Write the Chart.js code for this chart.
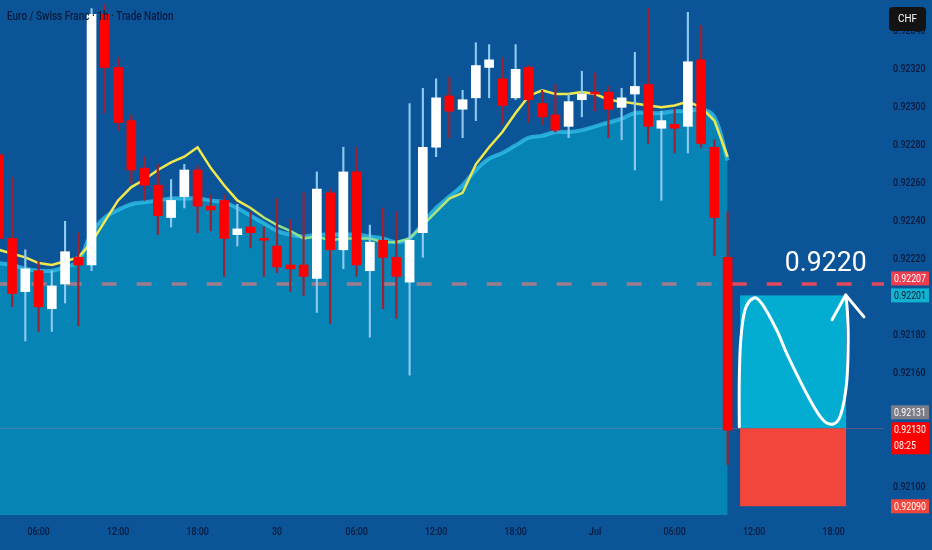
<!DOCTYPE html>
<html>
<head>
<meta charset="utf-8">
<script src="https://cdn.jsdelivr.net/npm/chart.js@4.4.1/dist/chart.umd.min.js"></script>
<style>
  html, body { margin: 0; padding: 0; background: #0a5497; }
  #wrap { width: 932px; height: 550px; position: relative; }
</style>
</head>
<body>
<div id="wrap"><canvas id="myChart"></canvas></div>
<script>
// hourly EUR/CHF candles, index 0 = 29 Jun 03:00
const opens = [0.92275,0.92231,0.92203,0.92214,0.92194,0.92207,0.92221,0.92217,0.92349,0.92321,
  0.92293,0.92268,0.92259,0.92242,0.92253,0.92267,0.92248,0.92251,0.92233,0.92237,
  0.92231,0.92227,0.92217,0.92217,0.92210,0.92255,0.92225,0.92266,0.92214,0.92230,
  0.92221,0.92208,0.92234,0.92279,0.92306,0.92299,0.92305,0.92321,0.92315,0.92305,
  0.92321,0.92302,0.92296,0.92290,0.92304,0.92308,0.92308,0.92300,0.92307,0.92312,
  0.92289,0.92291,0.92290,0.92325,0.92279,0.92221]
const highs = [0.92278,0.92263,0.92225,0.92219,0.92214,0.92240,0.92234,0.92352,0.92354,0.92326,
  0.92296,0.92274,0.92270,0.92262,0.92270,0.92269,0.92254,0.92254,0.92249,0.92245,
  0.92237,0.92252,0.92241,0.92255,0.92266,0.92257,0.92279,0.92279,0.92238,0.92247,
  0.92245,0.92302,0.92310,0.92315,0.92316,0.92309,0.92334,0.92333,0.92326,0.92333,
  0.92322,0.92309,0.92312,0.92307,0.92319,0.92318,0.92311,0.92310,0.92329,0.92352,
  0.92298,0.92299,0.92350,0.92343,0.92283,0.92245]
const lows = [0.92228,0.92195,0.92177,0.92182,0.92182,0.92197,0.92185,0.92214,0.92297,0.92288,
  0.92260,0.92251,0.92233,0.92237,0.92247,0.92234,0.92235,0.92211,0.92227,0.92226,
  0.92211,0.92213,0.92203,0.92201,0.92192,0.92186,0.92215,0.92211,0.92179,0.92194,
  0.92189,0.92159,0.92221,0.92274,0.92284,0.92284,0.92293,0.92305,0.92291,0.92304,
  0.92292,0.92291,0.92287,0.92284,0.92295,0.92298,0.92284,0.92283,0.92267,0.92281,
  0.92251,0.92276,0.92276,0.92279,0.92222,0.92112]
const closes = [0.92231,0.92202,0.92215,0.92195,0.92206,0.92224,0.92217,0.92349,0.92321,0.92292,
  0.92267,0.92259,0.92243,0.92251,0.92267,0.92248,0.92246,0.92231,0.92236,0.92234,
  0.92230,0.92216,0.92215,0.92211,0.92257,0.92225,0.92266,0.92217,0.92229,0.92221,
  0.92211,0.92230,0.92279,0.92305,0.92298,0.92304,0.92322,0.92325,0.92301,0.92320,
  0.92304,0.92295,0.92288,0.92303,0.92307,0.92307,0.92299,0.92305,0.92311,0.92290,
  0.92293,0.92289,0.92324,0.92281,0.92242,0.92130]

// fast moving average (yellow) and slow band (filled area)
const fastMa = [0.92225,0.92223,0.92221,0.92218,0.92217,0.92219,0.92221,0.92229,0.92240,0.92251,
  0.92258,0.92262,0.92267,0.92271,0.92274,0.92279,0.92268,0.92259,0.92251,0.92247,
  0.92242,0.92238,0.92235,0.92231,0.92232,0.92230,0.92231,0.92231,0.92231,0.92229,
  0.92229,0.92231,0.92238,0.92245,0.92252,0.92255,0.92270,0.92279,0.92287,0.92297,
  0.92306,0.92309,0.92307,0.92307,0.92308,0.92307,0.92304,0.92303,0.92302,0.92301,
  0.92300,0.92301,0.92303,0.92300,0.92293,0.92274]
const slowBand = [0.92218,0.92217,0.92215,0.92214,0.92214,0.92216,0.92219,0.92234,0.92242,0.92246,
  0.92249,0.92250,0.92251,0.92252,0.92252,0.92252,0.92251,0.92250,0.92247,0.92243,
  0.92239,0.92235,0.92233,0.92232,0.92233,0.92233,0.92233,0.92233,0.92232,0.92231,
  0.92229,0.92231,0.92239,0.92247,0.92253,0.92259,0.92267,0.92273,0.92276,0.92280,
  0.92284,0.92285,0.92287,0.92287,0.92288,0.92290,0.92292,0.92294,0.92297,0.92297,
  0.92297,0.92298,0.92298,0.92299,0.92295,0.92272]

const priceTicks = [0.92100,0.92120,0.92140,0.92160,0.92180,0.92200,0.92220,0.92240,0.92260,0.92280,0.92300,0.92320,0.92340]
const timeTickIdx = [3, 9, 15, 21, 27, 33, 39, 45, 51, 57, 63]
const timeTickText = ['06:00','12:00','18:00','30','06:00','12:00','18:00','Jul','06:00','12:00','18:00']

const title = 'Euro / Swiss Franc · 1h · Trade Nation'
const levelPrice = 0.92207
const levelText = '0.9220'
const targetPrice = 0.92201
const entryPrice = 0.92131
const stopPrice = 0.92090
const boxFrom = 55.94
const boxTo = 63.94

// hand drawn path inside the box, in (candle index, price)
const pathIdx = [55.88,55.88,55.99,56.31,56.94,57.57,58.70,59.58,61.22,62.20,62.98,63.53,63.98,64.10,64.03,63.91]
const pathPrice = [0.921319,0.921565,0.921775,0.921933,0.921995,0.921968,0.921828,0.921686,0.921459,0.921354,0.921333,0.921381,0.921549,0.921775,0.921933,0.922012]
const arrowIdx = [62.88, 63.91, 65.29]
const arrowPrice = [0.921882, 0.922012, 0.921897]

const priceTags = [
  { v: 0.92201, bg: '#12b3d0', fg: '#0b1a33', lines: ['0.92201'], fixed: true },
  { v: 0.92130, bg: '#ff0000', fg: '#ffffff', lines: ['0.92130', '08:25'], fixed: true },
  { v: 0.92090, bg: '#f2463c', fg: '#ffffff', lines: ['0.92090'], fixed: true },
  { v: 0.92207, bg: '#ec3e50', fg: '#ffffff', lines: ['0.92207'] },
  { v: 0.92131, bg: '#7b7e88', fg: '#ffffff', lines: ['0.92131'] }
]

const FONT = "Roboto, 'Noto Sans', sans-serif"
const NARROW = 0.8
const textDark = '#0b1a3b'

const idx = opens.map((_, i) => i)
const isUp = i => closes[i] >= opens[i]

// squeezed text, the chart uses a condensed face
const narrowText = (c, s, x, y, sx) => {
  c.save()
  c.translate(x, y)
  c.scale(sx, 1)
  c.fillText(s, 0, 0)
  c.restore()
}

const tvPlugin = {
  id: 'tv',
  beforeDraw(chart) {
    const c = chart.ctx
    c.save()
    c.fillStyle = '#0a5497'
    c.fillRect(0, 0, chart.width, chart.height)
    c.restore()
  },
  beforeDatasetsDraw(chart) {
    const c = chart.ctx
    const a = chart.chartArea
    const x = chart.scales.x
    const y = chart.scales.y
    c.save()

    // entry level, thin
    const ey = Math.round(y.getPixelForValue(entryPrice)) + 0.5
    c.strokeStyle = 'rgba(190,90,110,0.45)'
    c.lineWidth = 1
    c.beginPath(); c.moveTo(a.left, ey); c.lineTo(a.right, ey); c.stroke()

    // dashed level
    const ly = y.getPixelForValue(levelPrice)
    c.strokeStyle = '#e4485c'
    c.lineWidth = 3.5
    c.setLineDash([15, 20])
    c.lineDashOffset = 3.3
    c.beginPath(); c.moveTo(a.left, ly); c.lineTo(a.right, ly); c.stroke()
    c.setLineDash([])

    // axis labels from the scales' own ticks
    c.fillStyle = textDark
    c.textBaseline = 'middle'
    c.font = `500 11px ${FONT}`
    c.textAlign = 'left'
    y.ticks.forEach(t => narrowText(c, t.value.toFixed(5), a.right + 9, y.getPixelForValue(t.value), NARROW))
    c.textAlign = 'center'
    x.ticks.forEach((t, i) => narrowText(c, timeTickText[i], x.getPixelForValue(t.value), a.bottom + 17, NARROW))
    c.restore()
  },
  afterDatasetsDraw(chart) {
    const c = chart.ctx
    const x = chart.scales.x
    const y = chart.scales.y
    const x1 = x.getPixelForValue(boxFrom)
    const x2 = x.getPixelForValue(boxTo)
    const yt = y.getPixelForValue(targetPrice)
    const ye = y.getPixelForValue(entryPrice)
    const ys = y.getPixelForValue(stopPrice)
    c.save()

    // legend line sits on top of the candles
    c.font = `500 12px ${FONT}`
    c.fillStyle = textDark
    c.textBaseline = 'middle'
    c.textAlign = 'left'
    narrowText(c, title, 7, 17, 0.83)

    c.fillStyle = '#02add1'
    c.fillRect(x1, yt, x2 - x1, ye - yt)
    c.fillStyle = '#f2463c'
    c.fillRect(x1, ye, x2 - x1, ys - ye)

    // curve
    const p = pathIdx.map((k, i) => ({ x: x.getPixelForValue(k), y: y.getPixelForValue(pathPrice[i]) }))
    c.strokeStyle = '#ffffff'
    c.lineWidth = 3
    c.lineCap = 'round'
    c.lineJoin = 'round'
    c.beginPath()
    c.moveTo(p[0].x, p[0].y)
    for (let i = 0; i < p.length - 1; i++) {
      const p0 = p[i - 1] || p[i], p1 = p[i], p2 = p[i + 1], p3 = p[i + 2] || p2
      c.bezierCurveTo(p1.x + (p2.x - p0.x) / 6, p1.y + (p2.y - p0.y) / 6,
        p2.x - (p3.x - p1.x) / 6, p2.y - (p3.y - p1.y) / 6, p2.x, p2.y)
    }
    c.stroke()
    c.beginPath()
    arrowIdx.forEach((k, i) => {
      const px = x.getPixelForValue(k), py = y.getPixelForValue(arrowPrice[i])
      if (i === 0) c.moveTo(px, py); else c.lineTo(px, py)
    })
    c.stroke()

    // big level label
    c.font = `28px Roboto, 'Open Sans', sans-serif`
    c.fillStyle = '#ffffff'
    c.textAlign = 'center'
    c.textBaseline = 'alphabetic'
    narrowText(c, levelText, x.getPixelForValue(62.4), y.getPixelForValue(levelPrice) - 13, 0.95)
    c.restore()
  },
  afterDraw(chart) {
    const c = chart.ctx
    const y = chart.scales.y
    c.save()
    c.font = `11px ${FONT}`
    c.textBaseline = 'middle'
    c.textAlign = 'left'
    const placed = []
    priceTags.forEach(t => {
      const h = t.lines.length > 1 ? 32 : 14
      const py = y.getPixelForValue(t.v)
      let top = t.lines.length > 1 ? py - 8 : py - 7
      if (!t.fixed) {
        let moved = true
        while (moved) {
          moved = false
          placed.forEach(q => {
            if (top < q.top + q.h && top + h > q.top) { top = q.top - h - 3; moved = true }
          })
        }
      }
      placed.push({ top, h })
      c.fillStyle = t.bg
      c.fillRect(891, top, 38, h)
      c.fillStyle = t.fg
      t.lines.forEach((s, i) => narrowText(c, s, 894, top + 7.5 + i * 16, NARROW))
    })

    // currency box
    c.fillStyle = '#131313'
    c.beginPath()
    c.roundRect(889, 7, 37, 24, 4)
    c.fill()
    c.fillStyle = '#ffffff'
    c.textAlign = 'center'
    narrowText(c, 'CHF', 907.5, 19.5, 0.9)
    c.restore()
  }
}

const ctx = document.getElementById('myChart').getContext('2d')
new Chart(ctx, {
  type: 'bar',
  data: {
    datasets: [
      {
        type: 'line',
        label: 'band',
        data: idx.map(i => ({ x: i, y: slowBand[i] })),
        fill: 'start',
        backgroundColor: 'rgba(0,245,255,0.3)',
        borderColor: 'rgba(50,195,235,0.75)',
        borderWidth: 4,
        tension: 0.4,
        pointRadius: 0,
        order: 4
      },
      {
        type: 'line',
        label: 'ma',
        data: idx.map(i => ({ x: i, y: fastMa[i] })),
        fill: false,
        borderColor: context => {
          const a = context.chart.chartArea
          if (!a) return '#f0e44a'
          const g = context.chart.ctx.createLinearGradient(a.left, 0, a.right, 0)
          g.addColorStop(0, '#f2e84c')
          g.addColorStop(0.27, '#f2e84c')
          g.addColorStop(0.32, '#8fe08c')
          g.addColorStop(0.48, '#8fe08c')
          g.addColorStop(0.535, '#f2e84c')
          g.addColorStop(1, '#f2e84c')
          return g
        },
        borderWidth: 2.5,
        tension: 0,
        pointRadius: 0,
        order: 3
      },
      {
        label: 'wick',
        data: idx.map(i => ({ x: i, y: [lows[i], highs[i]] })),
        backgroundColor: idx.map(i => isUp(i) ? '#8cc8f0' : '#9a2233'),
        barThickness: 1.5,
        grouped: false,
        order: 2
      },
      {
        label: 'body',
        data: idx.map(i => ({ x: i, y: [opens[i], closes[i]] })),
        backgroundColor: idx.map(i => isUp(i) ? '#ffffff' : '#ff0000'),
        barThickness: 9,
        minBarLength: 2,
        grouped: false,
        order: 1
      }
    ]
  },
  options: {
    responsive: true,
    maintainAspectRatio: false,
    animation: false,
    layout: { padding: 0 },
    plugins: { legend: { display: false }, tooltip: { enabled: false } },
    scales: {
      x: {
        type: 'linear',
        min: 0.09,
        max: 66.8,
        offset: false,
        grid: { display: false, drawTicks: false },
        border: { display: false },
        ticks: { display: false, autoSkip: false },
        afterBuildTicks: s => { s.ticks = timeTickIdx.map(v => ({ value: v })) },
        afterFit: s => { s.height = 35; s.paddingLeft = 0; s.paddingRight = 0 }
      },
      y: {
        type: 'linear',
        position: 'right',
        min: 0.920854,
        max: 0.923565,
        grid: { display: false, drawTicks: false },
        border: { display: false },
        ticks: { display: false, autoSkip: false },
        afterBuildTicks: s => { s.ticks = priceTicks.map(v => ({ value: v })) },
        afterFit: s => { s.width = 48; s.paddingTop = 0; s.paddingBottom = 0 }
      }
    }
  },
  plugins: [tvPlugin]
})
</script>
</body>
</html>
